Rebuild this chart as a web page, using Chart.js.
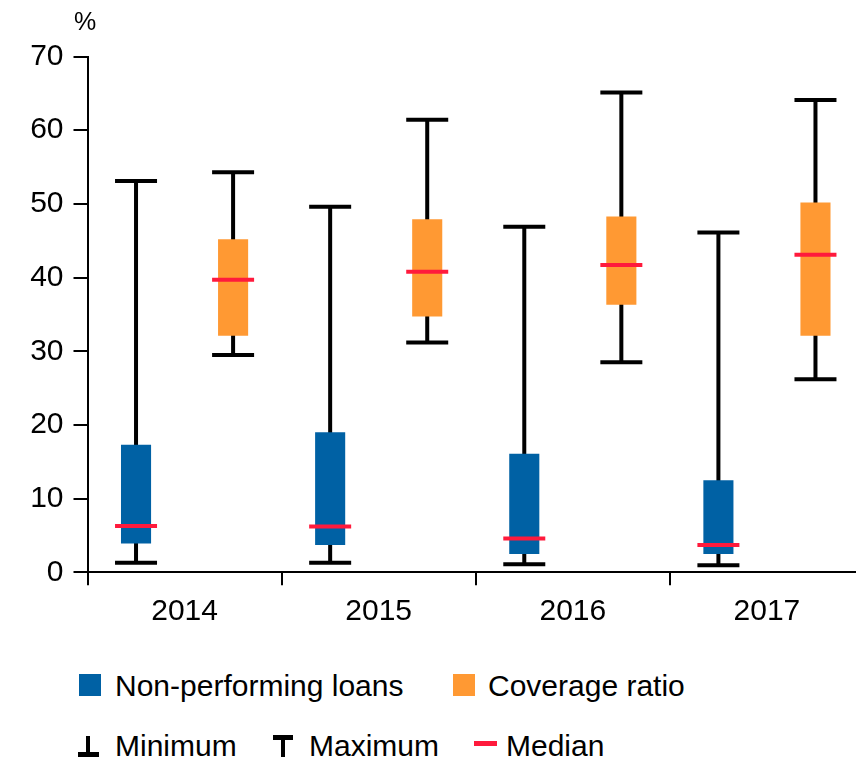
<!DOCTYPE html>
<html><head><meta charset="utf-8">
<script src="https://cdn.jsdelivr.net/npm/chart.js@4"></script>
<style>
html,body{margin:0;padding:0;overflow:hidden;background:#fff;width:856px;height:761px;}
#wrap{position:relative;width:856px;height:761px;overflow:hidden;background:#fff;}
canvas{position:absolute;left:0;top:0;}
.lg{position:absolute;font-family:'Liberation Sans',Arial,sans-serif;font-size:30px;line-height:30px;color:#000;white-space:nowrap;}
.sw{position:absolute;}
</style></head>
<body><div id="wrap"><canvas id="c" width="870" height="640"></canvas>
<div class="sw" style="left:79px;top:674px;width:22px;height:22px;background:#0061A4"></div>
<div class="lg" style="left:115px;top:671px">Non-performing loans</div>
<div class="sw" style="left:453px;top:674px;width:22px;height:22px;background:#FF9933"></div>
<div class="lg" style="left:488px;top:671px">Coverage ratio</div>
<div class="sw" style="left:86px;top:736px;width:4px;height:20px;background:#000"></div>
<div class="sw" style="left:78px;top:752px;width:21px;height:5px;background:#000"></div>
<div class="lg" style="left:115px;top:731px">Minimum</div>
<div class="sw" style="left:273px;top:735px;width:20px;height:5px;background:#000"></div>
<div class="sw" style="left:281px;top:735px;width:4px;height:22px;background:#000"></div>
<div class="lg" style="left:309px;top:731px">Maximum</div>
<div class="sw" style="left:474px;top:741px;width:23px;height:5px;background:#FF1A3C"></div>
<div class="lg" style="left:506px;top:731px">Median</div>
</div>
<script>
const years = ['2014', '2015', '2016', '2017'];
const yTicks = [0, 10, 20, 30, 40, 50, 60, 70];

const nplMin    = [1.3, 1.3, 1.1, 0.95];
const nplQ1     = [3.9, 3.7, 2.5, 2.5];
const nplMedian = [6.3, 6.2, 4.6, 3.7];
const nplQ3     = [17.3, 19.0, 16.1, 12.5];
const nplMax    = [53.1, 49.6, 46.9, 46.1];

const covMin    = [29.5, 31.2, 28.5, 26.2];
const covQ1     = [32.1, 34.7, 36.3, 32.1];
const covMedian = [39.7, 40.8, 41.7, 43.1];
const covQ3     = [45.2, 47.9, 48.3, 50.2];
const covMax    = [54.3, 61.4, 65.1, 64.1];

const whiskers = [
  {min: nplMin, med: nplMedian, max: nplMax},
  {min: covMin, med: covMedian, max: covMax}
];

const boxPlugin = {
  id: 'boxWhiskers',
  beforeDatasetsDraw(chart) {
    const ctx = chart.ctx, ys = chart.scales.y;
    ctx.save();
    ctx.strokeStyle = '#000';
    ctx.lineWidth = 4;
    ctx.lineCap = 'butt';
    whiskers.forEach((w, d) => {
      const meta = chart.getDatasetMeta(d);
      meta.data.forEach((el, i) => {
        const x = el.x;
        const y0 = ys.getPixelForValue(w.min[i]);
        const y1 = ys.getPixelForValue(w.max[i]);
        ctx.beginPath();
        ctx.moveTo(x, y0); ctx.lineTo(x, y1);
        ctx.moveTo(x - 21, y0); ctx.lineTo(x + 21, y0);
        ctx.moveTo(x - 21, y1); ctx.lineTo(x + 21, y1);
        ctx.stroke();
      });
    });
    ctx.restore();
  },
  afterDatasetsDraw(chart) {
    const ctx = chart.ctx, ys = chart.scales.y;
    ctx.save();
    ctx.strokeStyle = '#FF1A3C';
    ctx.lineWidth = 4;
    whiskers.forEach((w, d) => {
      const meta = chart.getDatasetMeta(d);
      meta.data.forEach((el, i) => {
        const x = el.x;
        const y = ys.getPixelForValue(w.med[i]);
        ctx.beginPath();
        ctx.moveTo(x - 21, y); ctx.lineTo(x + 21, y);
        ctx.stroke();
      });
    });
    ctx.restore();
  },
  afterDraw(chart) {
    const ctx = chart.ctx;
    ctx.save();
    ctx.fillStyle = '#000';
    ctx.font = '25px "Liberation Sans", Arial, sans-serif';
    ctx.textBaseline = 'alphabetic';
    ctx.fillText('%', 74, 30);
    ctx.restore();
  }
};

new Chart(document.getElementById('c'), {
  type: 'bar',
  data: {
    labels: years,
    datasets: [
      { label: 'Non-performing loans', data: years.map((_, i) => [nplQ1[i], nplQ3[i]]),
        backgroundColor: '#0061A4', borderWidth: 0, borderSkipped: false },
      { label: 'Coverage ratio', data: years.map((_, i) => [covQ1[i], covQ3[i]]),
        backgroundColor: '#FF9933', borderWidth: 0, borderSkipped: false }
    ]
  },
  options: {
    responsive: false,
    animation: false,
    devicePixelRatio: 1,
    categoryPercentage: 1.0,
    barPercentage: 0.31,
    layout: { padding: { top: 56.5, right: 6, left: 0, bottom: 0 } },
    plugins: { legend: { display: false }, tooltip: { enabled: false } },
    scales: {
      x: {
        grid: { display: true, drawOnChartArea: false, offset: true, tickLength: 13, color: '#000', lineWidth: 2 },
        border: { display: true, color: '#000', width: 2 },
        ticks: { color: '#000', font: { family: '"Liberation Sans", Arial, sans-serif', size: 30 }, padding: 8 },
        afterFit(s) { s.height = 640 - 572.3; }
      },
      y: {
        min: 0, max: 70,
        afterBuildTicks(s) { s.ticks = yTicks.map(v => ({ value: v })); },
        grid: { display: true, drawOnChartArea: false, tickLength: 14, color: '#000', lineWidth: 2 },
        border: { display: true, color: '#000', width: 2 },
        ticks: { color: '#000', font: { family: '"Liberation Sans", Arial, sans-serif', size: 30 }, padding: 10 },
        afterFit(s) { s.width = 87.5; }
      }
    }
  },
  plugins: [boxPlugin]
});
</script>
</body></html>
